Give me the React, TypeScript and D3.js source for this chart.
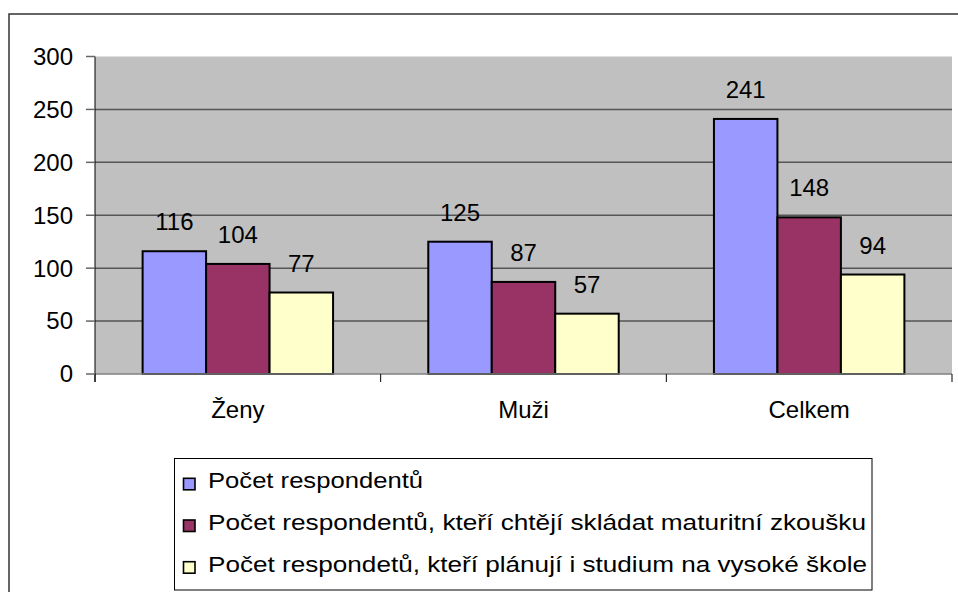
import * as d3 from 'd3';

const categories = ['Ženy', 'Muži', 'Celkem'];
const seriesNames = [
  'Počet respondentů',
  'Počet respondentů, kteří chtějí skládat maturitní zkoušku',
  'Počet respondetů, kteří plánují i studium na vysoké škole',
];
const respondents = [116, 125, 241];
const maturita = [104, 87, 148];
const university = [77, 57, 94];
const yTicks = [0, 50, 100, 150, 200, 250, 300];

const colors = ['#9999FF', '#993366', '#FFFFCC'];
const legendWidths = [215, 658, 659];

export default function App() {
  const width = 958;
  const height = 592;
  const plot = { left: 95, right: 952, top: 56.5, bottom: 374 };
  const font = '"Liberation Sans", Arial, sans-serif';

  const values = [respondents, maturita, university];

  const y = d3.scaleLinear().domain([0, 300]).range([plot.bottom, plot.top]);
  const x0 = d3.scaleBand<string>().domain(categories).range([plot.left, plot.right]);
  const x1 = d3
    .scaleBand<number>()
    .domain(d3.range(seriesNames.length))
    .range([0, x0.bandwidth()])
    .paddingInner(0)
    .paddingOuter(0.75);

  const boundaries = [...categories.map((c) => x0(c) as number), plot.right];

  return (
    <svg
      width={width}
      height={height}
      style={{ position: 'absolute', left: 0, top: 0, display: 'block', background: '#fff' }}
      fontFamily={font}
    >
      {/* chart frame */}
      <rect x={9} y={14} width={960} height={600} fill="#fff" stroke="#333" strokeWidth={1.5} />

      {/* plot area */}
      <rect
        x={plot.left}
        y={plot.top}
        width={plot.right - plot.left}
        height={plot.bottom - plot.top}
        fill="#C0C0C0"
      />
      {yTicks
        .filter((t) => t > 0 && t < 300)
        .map((t) => (
          <line key={t} x1={plot.left} x2={plot.right} y1={y(t)} y2={y(t)} stroke="#555" strokeWidth={1.5} />
        ))}

      {/* bars */}
      {categories.map((c, ci) =>
        values.map((vals, si) => {
          const bx = (x0(c) as number) + (x1(si) as number);
          const by = y(vals[ci]);
          return (
            <g key={c + si}>
              <rect
                x={bx}
                y={by}
                width={x1.bandwidth()}
                height={plot.bottom - by}
                fill={colors[si]}
                stroke="#000"
                strokeWidth={2}
              />
              <text
                x={bx + x1.bandwidth() / 2}
                y={by - 21}
                textAnchor="middle"
                fontSize={24}
                fill="#000"
              >
                {vals[ci]}
              </text>
            </g>
          );
        })
      )}

      {/* x axis */}
      <line x1={plot.left} x2={plot.right} y1={plot.bottom} y2={plot.bottom} stroke="#808080" strokeWidth={1.5} />
      {boundaries.map((bx, i) => (
        <line key={i} x1={bx} x2={bx} y1={plot.bottom} y2={plot.bottom + 8} stroke="#000" strokeWidth={1} />
      ))}
      {categories.map((c) => (
        <text
          key={c}
          x={(x0(c) as number) + x0.bandwidth() / 2}
          y={418}
          textAnchor="middle"
          fontSize={24}
          fill="#000"
        >
          {c}
        </text>
      ))}

      {/* y axis */}
      <line x1={plot.left} x2={plot.left} y1={plot.top} y2={plot.bottom + 8} stroke="#000" strokeWidth={1} />
      {yTicks.map((t) => (
        <g key={t}>
          <line x1={plot.left - 9} x2={plot.left} y1={y(t)} y2={y(t)} stroke="#666" strokeWidth={1.5} />
          <text x={73} y={y(t)} dy="0.35em" textAnchor="end" fontSize={24} fill="#000">
            {t}
          </text>
        </g>
      ))}

      {/* legend */}
      <rect x={174.5} y={458.5} width={697.5} height={131.5} fill="#fff" stroke="#000" strokeWidth={1} />
      {seriesNames.map((name, i) => {
        const base = 488.3 + i * 41.7;
        return (
          <g key={name}>
            <rect x={183.5} y={base - 10} width={11.5} height={11.5} fill={colors[i]} stroke="#000" strokeWidth={1.6} />
            <text
              x={208}
              y={base}
              fontSize={22}
              fill="#000"
              textLength={legendWidths[i]}
              lengthAdjust="spacingAndGlyphs"
            >
              {name}
            </text>
          </g>
        );
      })}
    </svg>
  );
}
